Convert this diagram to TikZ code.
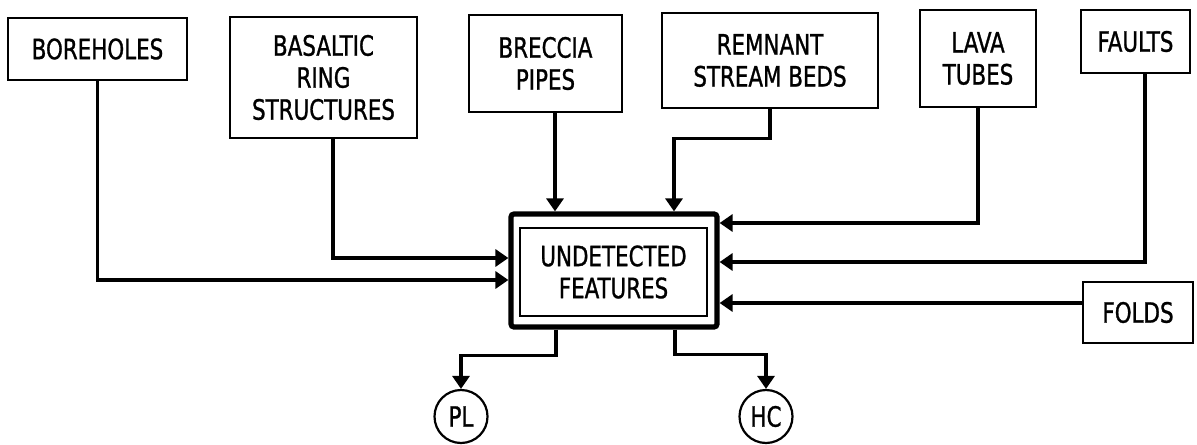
\documentclass[tikz,border=0pt]{standalone}
\usepackage{fontspec}
\setmainfont{DejaVu Sans Condensed}[FakeStretch=0.85, FakeBold=1]
\usetikzlibrary{arrows.meta}
\tikzset{
  box/.style={draw, line width=1.1pt, rectangle, inner sep=0pt, align=center, font=\fontsize{14}{16}\selectfont},
  conn/.style={line width=1.6pt, -{Triangle[length=6.5pt,width=8.5pt]}},
  circ/.style={draw, line width=1.1pt, circle, inner sep=0pt, minimum size=26.5pt, font=\fontsize{14}{16}\selectfont}
}
\begin{document}
\begin{tikzpicture}[x=0.5pt,y=-0.5pt]
\useasboundingbox (0,0) rectangle (1197,444);
\node[box, minimum width=89.5pt, minimum height=31pt] (bore) at (97.5,49) {BOREHOLES};
\node[box, minimum width=93.5pt, minimum height=60.5pt] (bas) at (323.5,77.5) {BASALTIC\\RING\\STRUCTURES};
\node[box, minimum width=76.5pt, minimum height=48.5pt] (brec) at (545.5,63.5) {BRECCIA\\PIPES};
\node[box, minimum width=108pt, minimum height=47.5pt] (rem) at (770,60.5) {REMNANT\\STREAM BEDS};
\node[box, minimum width=58pt, minimum height=48.5pt] (lava) at (978,58.5) {LAVA\\TUBES};
\node[box, minimum width=54.5pt, minimum height=31.5pt] (faults) at (1135.5,41.5) {FAULTS};
\node[box, minimum width=55pt, minimum height=30.5pt] (folds) at (1138,312.5) {FOLDS};
\node[draw, line width=2.6pt, rounded corners=1.5pt, minimum width=103pt, minimum height=56.5pt, inner sep=0pt] (ufo) at (614,270.5) {};
\node[box, minimum width=93.5pt, minimum height=44pt] (ufi) at (613.5,272) {UNDETECTED\\FEATURES};
\node[circ] (pl) at (461,416.5) {PL};
\node[circ] (hc) at (766,416.5) {HC};
\draw[conn] (bore.south) |- (ufo.west |- 0,280);
\draw[conn] (bas.south -| 333,0) |- (ufo.west |- 0,258);
\draw[conn] (brec.south -| 555,0) -- (ufo.north -| 555,0);
\draw[conn] (rem.south) -- ++(0,29) -| (ufo.north -| 674,0);
\draw[conn] (lava.south) |- (ufo.east |- 0,223);
\draw[conn] (faults.south -| 1145,0) |- (ufo.east |- 0,262);
\draw[conn] (folds.west |- 0,303) -- (ufo.east |- 0,303);
\draw[conn] (ufo.south -| 556,0) -- ++(0,26) -| (pl.north);
\draw[conn] (ufo.south -| 675,0) -- ++(0,25) -| (hc.north);
\end{tikzpicture}
\end{document}
